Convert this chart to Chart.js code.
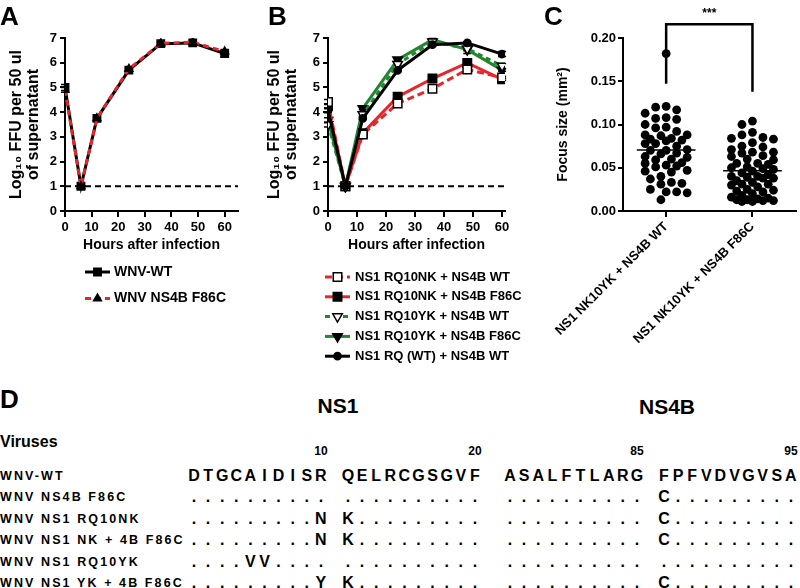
<!DOCTYPE html>
<html>
<head>
<meta charset="utf-8">
<script src="https://cdn.jsdelivr.net/npm/chart.js@4.4.1/dist/chart.umd.min.js"></script>
<style>
  body { margin: 0; background: #fff; }
  #fig { position: relative; width: 800px; height: 588px; overflow: hidden; font-family: "Liberation Sans", Arial, sans-serif; color: #000; }
  #fig canvas { position: absolute; }
  .t { position: absolute; white-space: nowrap; line-height: 1; font-weight: bold; }
</style>
</head>
<body>
<div id="fig">
  <canvas id="chartA" width="255" height="360" style="left:0;top:0"></canvas>
  <canvas id="chartB" width="270" height="370" style="left:260px;top:0"></canvas>
  <canvas id="chartC" width="280" height="350" style="left:520px;top:0"></canvas>
</div>
<script>
"use strict";

// ---- Data panel A
const hoursA = [0, 6, 12, 24, 36, 48, 60];
const wnvWt = [5.0, 1.0, 3.75, 5.7, 6.77, 6.8, 6.37];
const wnvWtErr = [0.12, 0, 0.05, 0.05, 0.05, 0.05, 0.13];
const wnvF86c = [4.9, 1.0, 3.75, 5.75, 6.78, 6.83, 6.45];
const wnvF86cErr = [0.1, 0, 0.05, 0.05, 0.05, 0.05, 0.08];

// ---- Data panel B
const hoursB = [0, 6, 12, 24, 36, 48, 60];
const nkWt = [4.41, 1.0, 3.1, 4.35, 4.95, 5.73, 5.4];
const nkWtErr = [0.1, 0, 0.05, 0.12, 0.05, 0.08, 0.05];
const nkF86c = [4.24, 1.0, 3.15, 4.62, 5.36, 5.99, 5.33];
const nkF86cErr = [0.1, 0, 0.05, 0.05, 0.05, 0.05, 0.05];
const ykWt = [3.5, 1.0, 3.9, 5.94, 6.85, 6.57, 5.87];
const ykWtErr = [0.1, 0, 0.05, 0.05, 0.05, 0.2, 0.1];
const ykF86c = [3.67, 1.0, 4.15, 6.12, 6.93, 6.53, 5.7];
const ykF86cErr = [0.1, 0, 0.05, 0.05, 0.05, 0.05, 0.05];
const rqWt = [4.08, 1.0, 3.75, 5.69, 6.73, 6.8, 6.35];
const rqWtErr = [0.1, 0, 0.05, 0.05, 0.05, 0.05, 0.1];

const hourTicks = [0, 10, 20, 30, 40, 50, 60];
const detectionLimit = 1;

// ---- Data panel C (focus size, mm2)
const focusCategories = ["NS1 NK10YK + NS4B WT", "NS1 NK10YK + NS4B F86C"];
const focusWt = [0.182, 0.121, 0.120, 0.117, 0.113, 0.108, 0.107, 0.106, 0.100, 0.097, 0.096, 0.092,
  0.088, 0.088, 0.087, 0.084, 0.083, 0.082, 0.081, 0.078, 0.078, 0.075, 0.071, 0.070, 0.070, 0.067,
  0.066, 0.063, 0.062, 0.060, 0.059, 0.056, 0.055, 0.053, 0.052, 0.051, 0.047, 0.046, 0.045, 0.040,
  0.037, 0.033, 0.032, 0.031, 0.025, 0.022, 0.022, 0.021, 0.013];
const focusF86c = [0.104, 0.100, 0.091, 0.088, 0.085, 0.084, 0.083, 0.079, 0.075, 0.074, 0.071, 0.068,
  0.067, 0.068, 0.064, 0.063, 0.060, 0.059, 0.055, 0.054, 0.055, 0.050, 0.049, 0.051, 0.046, 0.048,
  0.044, 0.042, 0.040, 0.039, 0.038, 0.040, 0.035, 0.038, 0.031, 0.030, 0.033, 0.031, 0.025, 0.028,
  0.023, 0.024, 0.020, 0.022, 0.018, 0.016, 0.015, 0.014, 0.013, 0.012, 0.011, 0.011, 0.012, 0.013];
const focusTicks = [0, 0.05, 0.10, 0.15, 0.20];
const bracketX = [1, 1, 2, 2];
const bracketY = [0.147, 0.216, 0.216, 0.138];
const significance = "***";

// ---- Data panel D
const seqBlocks = ["DTGCAIDISR", "QELRCGSGVF", "ASALFTLARG", "FPFVDVGVSA"];
const blockEndNumbers = ["10", "20", "85", "95"];
const virusNames = ["WNV-WT", "WNV NS4B F86C", "WNV NS1 RQ10NK", "WNV NS1 NK + 4B F86C", "WNV NS1 RQ10YK", "WNV NS1 YK + 4B F86C"];
const virusSeqs = [
  seqBlocks,
  ["..........", "..........", "..........", "C........."],
  [".........N", "K.........", "..........", "C........."],
  [".........N", "K.........", "..........", "C........."],
  ["....VV....", "..........", "..........", ".........."],
  [".........Y", "K.........", "..........", "C........."]
];

const RED = "#e8252b";
const GREEN = "#21872e";
const FONT = "'Liberation Sans', Arial, sans-serif";

Chart.defaults.font.family = FONT;
Chart.defaults.color = "#000";

const toPoints = (xs, ys) => xs.map((x, i) => ({ x: x, y: ys[i] }));

// legend drawn under the plot: line sample + marker + label
const seriesKey = {
  id: "seriesKey",
  afterDraw(chart, args, opts) {
    if (!opts || opts.top === undefined) return;
    const ctx = chart.ctx;
    let row = 0;
    chart.data.datasets.forEach(ds => {
      if (!ds.inKey) return;
      const y = opts.top + row * opts.gap;
      const x0 = opts.left;
      ctx.save();
      ctx.strokeStyle = ds.borderColor;
      ctx.lineWidth = ds.borderWidth;
      ctx.setLineDash(ds.borderDash || []);
      ctx.beginPath();
      ctx.moveTo(x0, y);
      ctx.lineTo(x0 + opts.len, y);
      ctx.stroke();
      ctx.setLineDash([]);
      ctx.fillStyle = ds.pointBackgroundColor;
      ctx.strokeStyle = ds.pointBorderColor;
      ctx.lineWidth = ds.pointBorderWidth;
      Chart.helpers.drawPoint(ctx, {
        pointStyle: ds.pointStyle,
        rotation: ds.pointRotation || 0,
        radius: ds.pointRadius,
        borderWidth: ds.pointBorderWidth
      }, x0 + opts.len / 2, y);
      ctx.fillStyle = "#000";
      ctx.font = opts.font;
      ctx.textAlign = "left";
      ctx.textBaseline = "middle";
      ctx.fillText(ds.label, x0 + opts.len + opts.textGap, y);
      ctx.restore();
      row++;
    });
  }
};

// vertical error bars (SEM) with caps, drawn under the markers
const errorBars = {
  id: "errorBars",
  beforeDatasetsDraw(chart) {
    const ctx = chart.ctx;
    const ys = chart.scales.y;
    chart.data.datasets.forEach((ds, i) => {
      if (!ds.errors) return;
      const meta = chart.getDatasetMeta(i);
      ctx.save();
      ctx.strokeStyle = "#000";
      ctx.lineWidth = 1.5;
      ds.errors.forEach((e, j) => {
        if (!e) return;
        const x = meta.data[j].x;
        const v = ds.data[j].y;
        const top = ys.getPixelForValue(v + e), bot = ys.getPixelForValue(v - e);
        ctx.beginPath();
        ctx.moveTo(x, top); ctx.lineTo(x, bot);
        ctx.moveTo(x - 4, top); ctx.lineTo(x + 4, top);
        ctx.moveTo(x - 4, bot); ctx.lineTo(x + 4, bot);
        ctx.stroke();
      });
      ctx.restore();
    });
  }
};

function growthScales(xMax, yWidth, titlePad) {
  return {
    x: {
      type: "linear", min: 0, max: xMax,
      afterBuildTicks: s => { s.ticks = hourTicks.map(v => ({ value: v })); },
      afterFit: s => { s.height = 50; },
      ticks: { maxRotation: 0, autoSkip: false, padding: 3, font: { size: 13, weight: "bold" } },
      grid: { drawOnChartArea: false, color: "#000", lineWidth: 2, tickLength: 6 },
      border: { color: "#000", width: 2 },
      title: { display: true, text: "Hours after infection", font: { size: 14, weight: "bold" }, padding: { top: 0, bottom: 7 } }
    },
    y: {
      min: 0, max: 7,
      afterFit: s => { s.width = yWidth; },
      ticks: { stepSize: 1, padding: 3, font: { size: 13, weight: "bold" } },
      grid: { drawOnChartArea: false, color: "#000", lineWidth: 2, tickLength: 5 },
      border: { color: "#000", width: 2 },
      title: {
        display: true,
        text: ["Log\u2081\u2080 FFU per 50 ul", "of supernatant"],
        font: { size: 16, weight: "bold", lineHeight: 1.06 },
        padding: { top: titlePad, bottom: 0 }
      }
    }
  };
}

function limitLine(xMax) {
  return {
    label: "limit", data: [{ x: 0, y: detectionLimit }, { x: xMax, y: detectionLimit }],
    borderColor: "#000", borderWidth: 2, borderDash: [6, 4], pointRadius: 0, order: 10, inKey: false
  };
}

function series(label, xs, ys, errs, o) {
  return Object.assign({
    label: label, data: toPoints(xs, ys), errors: errs, inKey: true,
    borderWidth: 3, borderDash: [], pointBorderWidth: 1.5,
    pointBackgroundColor: "#000", pointBorderColor: "#000"
  }, o);
}

// ---- Panel A
const xMaxA = 65;
new Chart(document.getElementById("chartA"), {
  type: "line",
  data: {
    datasets: [
      series("WNV-WT", hoursA, wnvWt, wnvWtErr, { borderColor: "#000", pointStyle: "rect", pointRadius: 5.2, order: 2 }),
      series("WNV NS4B F86C", hoursA, wnvF86c, wnvF86cErr, { borderColor: RED, borderDash: [6, 4], pointStyle: "triangle", pointRadius: 4.5, order: 1 }),
      limitLine(xMaxA)
    ]
  },
  options: {
    responsive: false, animation: false, events: [],
    layout: { padding: { left: 0, top: 38, right: 17, bottom: 99 } },
    scales: growthScales(xMaxA, 65, 8.5),
    plugins: {
      legend: { display: false }, tooltip: { enabled: false },
      seriesKey: { top: 272, gap: 26.6, left: 85, len: 25, textGap: 4, font: "bold 14px " + FONT }
    }
  },
  plugins: [seriesKey, errorBars]
});

// ---- Panel B
const xMaxB = 61;
new Chart(document.getElementById("chartB"), {
  type: "line",
  data: {
    datasets: [
      series("NS1 RQ10NK + NS4B WT", hoursB, nkWt, nkWtErr, { borderColor: RED, borderDash: [7, 4], pointStyle: "rect", pointRadius: 6, pointBackgroundColor: "#fff", order: 3 }),
      series("NS1 RQ10NK + NS4B F86C", hoursB, nkF86c, nkF86cErr, { borderColor: RED, pointStyle: "rect", pointRadius: 6, order: 4 }),
      series("NS1 RQ10YK + NS4B WT", hoursB, ykWt, ykWtErr, { borderColor: GREEN, borderDash: [5, 4], pointStyle: "triangle", pointRotation: 180, pointRadius: 5.5, pointBackgroundColor: "#fff", order: 2 }),
      series("NS1 RQ10YK + NS4B F86C", hoursB, ykF86c, ykF86cErr, { borderColor: GREEN, pointStyle: "triangle", pointRotation: 180, pointRadius: 5.5, order: 5 }),
      series("NS1 RQ (WT) + NS4B WT", hoursB, rqWt, rqWtErr, { borderColor: "#000", pointStyle: "circle", pointRadius: 3.6, order: 1 }),
      limitLine(xMaxB)
    ]
  },
  options: {
    responsive: false, animation: false, events: [],
    layout: { padding: { left: 0, top: 38, right: 25, bottom: 109 } },
    scales: growthScales(xMaxB, 68, 6.5),
    plugins: {
      legend: { display: false }, tooltip: { enabled: false },
      seriesKey: { top: 277, gap: 19.8, left: 65, len: 25, textGap: 5, font: "bold 13px " + FONT }
    }
  },
  plugins: [seriesKey, errorBars]
});

// ---- Panel C
const mean = arr => arr.reduce((a, b) => a + b, 0) / arr.length;
const focusGroups = [focusWt, focusF86c];
const meanHalfWidth = 0.34;
const pointR = 4.4;

const sigLabel = {
  id: "sigLabel",
  afterDraw(chart) {
    const ctx = chart.ctx;
    const x = chart.scales.x.getPixelForValue((bracketX[1] + bracketX[2]) / 2);
    const y = chart.scales.y.getPixelForValue(bracketY[1]);
    ctx.save();
    ctx.fillStyle = "#000";
    ctx.font = "bold 12px " + FONT;
    ctx.textAlign = "center";
    ctx.textBaseline = "bottom";
    ctx.fillText(significance, x, y - 4);
    ctx.restore();
  }
};

const chartC = new Chart(document.getElementById("chartC"), {
  type: "scatter",
  data: {
    datasets: [
      ...focusGroups.map((vals, g) => ({
        data: vals.map(v => ({ x: g + 1, y: v })),
        pointRadius: pointR, pointBackgroundColor: "#000", pointBorderWidth: 0, order: 2
      })),
      ...focusGroups.map((vals, g) => ({
        type: "line", data: [{ x: g + 1 - meanHalfWidth, y: mean(vals) }, { x: g + 1 + meanHalfWidth, y: mean(vals) }],
        borderColor: "#000", borderWidth: 1.5, pointRadius: 0, order: 1
      })),
      {
        type: "line", data: toPoints(bracketX, bracketY),
        borderColor: "#000", borderWidth: 2.5, pointRadius: 0, clip: false, order: 0
      }
    ]
  },
  options: {
    responsive: false, animation: false, events: [],
    layout: { padding: { left: 0, top: 38, right: 2, bottom: 0 } },
    scales: {
      x: {
        type: "linear", min: 0.5, max: 2.5,
        afterBuildTicks: s => { s.ticks = focusCategories.map((c, i) => ({ value: i + 1 })); },
        afterFit: s => { s.height = 139; },
        ticks: {
          autoSkip: false, minRotation: 45, maxRotation: 45, padding: 2,
          font: { size: 13, weight: "bold" },
          callback: v => focusCategories[v - 1]
        },
        grid: { drawOnChartArea: false, color: "#000", lineWidth: 2, tickLength: 6 },
        border: { color: "#000", width: 2 }
      },
      y: {
        min: 0, max: 0.2,
        afterBuildTicks: s => { s.ticks = focusTicks.map(v => ({ value: v })); },
        afterFit: s => { s.width = 103; },
        ticks: { padding: 2, font: { size: 13, weight: "bold" }, callback: v => v.toFixed(2) },
        grid: { drawOnChartArea: false, color: "#000", lineWidth: 2, tickLength: 5 },
        border: { color: "#000", width: 2 },
        title: { display: true, text: "Focus size (mm\u00b2)", font: { size: 14, weight: "bold" }, padding: { top: 35, bottom: 0 } }
      }
    },
    plugins: { legend: { display: false }, tooltip: { enabled: false } }
  },
  plugins: [sigLabel]
});

// spread each column's points sideways so they do not overlap (beeswarm)
function swarm(chart) {
  const xs = chart.scales.x, ys = chart.scales.y;
  const pxPerUnit = xs.getPixelForValue(1) - xs.getPixelForValue(0);
  const diam = 2 * pointR;
  const step = 5.25;
  focusGroups.forEach((vals, g) => {
    const ds = chart.data.datasets[g];
    const placed = [];
    const idx = vals.map((v, i) => i).sort((a, b) => vals[b] - vals[a]);
    idx.forEach(i => {
      const py = ys.getPixelForValue(vals[i]);
      let best = 0, bestDist = -1;
      for (let k = 0; k <= 8; k++) {
        const off = (k % 2 ? -1 : 1) * Math.ceil(k / 2) * step;
        let dmin = Infinity;
        placed.forEach(p => { dmin = Math.min(dmin, Math.hypot(p[0] - off, p[1] - py)); });
        if (dmin >= diam) { best = off; bestDist = dmin; break; }
        if (dmin > bestDist) { bestDist = dmin; best = off; }
      }
      placed.push([best, py]);
      ds.data[i].x = g + 1 + best / pxPerUnit;
    });
  });
  chart.update("none");
}
swarm(chartC);

// ---- Text: panel letters and panel D
const fig = document.getElementById("fig");
function addText(txt, x, y, size, align, extra) {
  const d = document.createElement("div");
  d.className = "t";
  d.textContent = txt;
  d.style.fontSize = size + "px";
  d.style.top = y + "px";
  d.style.left = x + "px";
  const tx = align === "center" ? "-50%" : "0";
  d.style.transform = "translate(" + tx + ", -50%)";
  if (extra) Object.assign(d.style, extra);
  fig.appendChild(d);
  return d;
}

addText("A", 0, 16, 26, "left");
addText("B", 268, 16, 26, "left");
addText("C", 544, 16, 26, "left");
addText("D", 0, 399, 26, "left");
addText("NS1", 338, 405, 21, "center");
addText("NS4B", 667, 406, 21, "center");
addText("Viruses", 0, 442, 16, "left");

const blockStart = [194, 348, 510, 664];
const cellW = 14.1;
const rowTop = 475.5, rowGap = 21.5;

blockEndNumbers.forEach((n, b) => addText(n, blockStart[b] + 9 * cellW, 451, 12, "center"));

virusNames.forEach((name, r) => {
  const y = rowTop + r * rowGap;
  addText(name, 0, y, 12.5, "left", { letterSpacing: "2.1px" });
  virusSeqs[r].forEach((blk, b) => {
    blk.split("").forEach((ch, c) => addText(ch, blockStart[b] + c * cellW, y, 16, "center"));
  });
});
</script>
</body>
</html>
